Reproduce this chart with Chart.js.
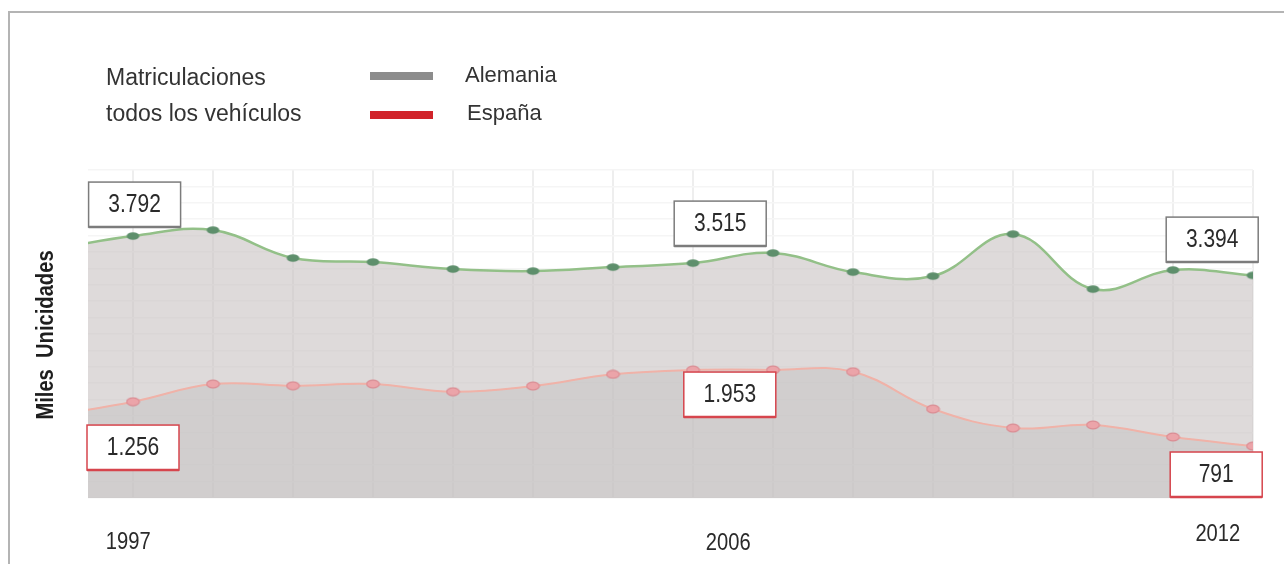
<!DOCTYPE html>
<html>
<head>
<meta charset="utf-8">
<script src="https://cdn.jsdelivr.net/npm/chart.js@4.4.1/dist/chart.umd.min.js"></script>
<style>
  html, body { margin: 0; padding: 0; background: #fff; }
  #wrap { position: relative; width: 1284px; height: 564px; overflow: hidden; }
  #frame { position: absolute; left: 8px; top: 11px; right: -4px; bottom: -4px; border: 2px solid #b4b4b4; }
  canvas { position: absolute; left: 0; top: 0; }
  .lg { position: absolute; font-family: 'Liberation Sans', Arial, sans-serif; font-size: 23px; color: #333; line-height: 1; white-space: nowrap; }
  .sw { position: absolute; width: 63px; height: 8px; }
</style>
</head>
<body>
<div id="wrap">
  <div id="frame"></div>
  <canvas id="lineChart" width="1284" height="564"></canvas>
  <div class="lg" style="left:106px; top:66px;">Matriculaciones</div>
  <div class="lg" style="left:106px; top:102px;">todos los vehículos</div>
  <div class="sw" style="left:370px; top:72px; background:#8c8c8c;"></div>
  <div class="sw" style="left:370px; top:111px; background:#d1232a;"></div>
  <div class="lg" style="left:465px; top:64px; font-size:22px;">Alemania</div>
  <div class="lg" style="left:467px; top:102px; font-size:22px;">España</div>
</div>
<script>
// Data (miles de unidades)
const years = [1997, 1998, 1999, 2000, 2001, 2002, 2003, 2004, 2005, 2006, 2007, 2008, 2009, 2010, 2011, 2012];
const alemania = [3792, 3993, 4084, 3658, 3597, 3490, 3459, 3520, 3581, 3734, 3444, 3383, 4023, 3185, 3475, 3394];
const espana = [1256, 1468, 1737, 1711, 1737, 1620, 1707, 1885, 1951, 1953, 1925, 1356, 1067, 1113, 930, 791];
const tickLabels = ['1997', '2006', '2012'];
const calloutLabels = ['3.792', '3.515', '3.394', '1.256', '1.953', '791'];

const numFont = "'Liberation Sans', Arial, sans-serif";

// ellipse shaped points, like the original
const ellipsePoint = (fill, stroke) => {
  const c = document.createElement('canvas');
  c.width = 15;
  c.height = 10;
  const g = c.getContext('2d');
  g.beginPath();
  g.ellipse(7.5, 5, 6.3, 3.8, 0, 0, Math.PI * 2);
  g.fillStyle = fill;
  g.fill();
  if (stroke) {
    g.strokeStyle = stroke;
    g.lineWidth = 1.2;
    g.stroke();
  }
  return c;
};

// narrow text: squeeze horizontally
const narrowText = (ctx, text, x, y, squeeze) => {
  ctx.save();
  ctx.translate(x, y);
  ctx.scale(squeeze, 1);
  ctx.fillText(text, 0, 0);
  ctx.restore();
};

// callout boxes: [x value, y value (top of box)], series colour
const callouts = [
  { x: 1998.02, y: 4816, border: '#7c7c7c' },
  { x: 2005.34, y: 4526, border: '#7c7c7c' },
  { x: 2011.49, y: 4282, border: '#7c7c7c' },
  { x: 1998.0, y: 1112, border: '#d6454d' },
  { x: 2005.46, y: 1920, border: '#d6454d' },
  { x: 2011.54, y: 701, border: '#d6454d' },
];

const decorPlugin = {
  id: 'decor',
  afterDraw(chart) {
    const { ctx, scales: { x, y } } = chart;
    ctx.save();

    // value boxes
    callouts.forEach((c, i) => {
      const cx = x.getPixelForValue(c.x);
      const top = y.getPixelForValue(c.y);
      const w = 92, h = 45;
      ctx.fillStyle = '#fff';
      ctx.fillRect(cx - w / 2, top, w, h);
      ctx.strokeStyle = c.border;
      ctx.lineWidth = 1.5;
      ctx.strokeRect(cx - w / 2, top, w, h);
      ctx.lineWidth = 2.5;
      ctx.beginPath();
      ctx.moveTo(cx - w / 2, top + h);
      ctx.lineTo(cx + w / 2, top + h);
      ctx.stroke();
      ctx.fillStyle = '#2a2a2a';
      ctx.font = '25px ' + numFont;
      ctx.textAlign = 'center';
      ctx.textBaseline = 'middle';
      narrowText(ctx, calloutLabels[i], cx, top + h / 2 + 1, 0.84);
    });

    // year labels
    const tickPos = [1997.94, 2005.44, 2011.56];
    const tickY = [542, 543, 534];
    ctx.fillStyle = '#2a2a2a';
    ctx.font = '24px ' + numFont;
    tickLabels.forEach((t, i) => {
      narrowText(ctx, t, x.getPixelForValue(tickPos[i]), tickY[i], 0.84);
    });

    // axis title
    ctx.translate(46, 335);
    ctx.rotate(-Math.PI / 2);
    ctx.font = 'bold 24px ' + numFont;
    ctx.fillStyle = '#1e1e1e';
    narrowText(ctx, 'Miles  Unicidades', 0, 0, 0.84);
    ctx.restore();
  },
};

const ctx = document.getElementById('lineChart');
new Chart(ctx, {
  type: 'line',
  data: {
    datasets: [
      {
        label: 'España',
        data: years.map((yr, i) => ({ x: yr, y: espana[i] })),
        borderColor: '#f0b2a8',
        borderWidth: 2,
        tension: 0.4,
        fill: 'origin',
        backgroundColor: 'rgba(190,191,191,0.4)',
        pointStyle: ellipsePoint('#eba4a9', '#db8c93'),
        pointRadius: 5,
      },
      {
        label: 'Alemania',
        data: years.map((yr, i) => ({ x: yr, y: alemania[i] })),
        borderColor: '#93c088',
        borderWidth: 2.5,
        tension: 0.4,
        fill: 'origin',
        backgroundColor: 'rgba(200,194,194,0.6)',
        pointStyle: ellipsePoint('#5e8f6c'),
        pointRadius: 5,
      },
    ],
  },
  options: {
    responsive: false,
    animation: false,
    devicePixelRatio: 1,
    layout: {
      padding: { left: 88, right: 31, top: 170, bottom: 66 },
    },
    plugins: {
      legend: { display: false },
      tooltip: { enabled: false },
    },
    scales: {
      x: {
        type: 'linear',
        min: 1997.4375,
        max: 2012,
        border: { display: false },
        grid: { color: '#eeeeee', lineWidth: 2, drawTicks: false },
        ticks: { display: false, stepSize: 1, includeBounds: false },
      },
      y: {
        min: 0,
        max: 5000,
        border: { display: false },
        grid: { color: '#f5f5f5', lineWidth: 1.5, drawTicks: false },
        ticks: { display: false, stepSize: 250 },
      },
    },
  },
  plugins: [decorPlugin],
});
</script>
</body>
</html>
